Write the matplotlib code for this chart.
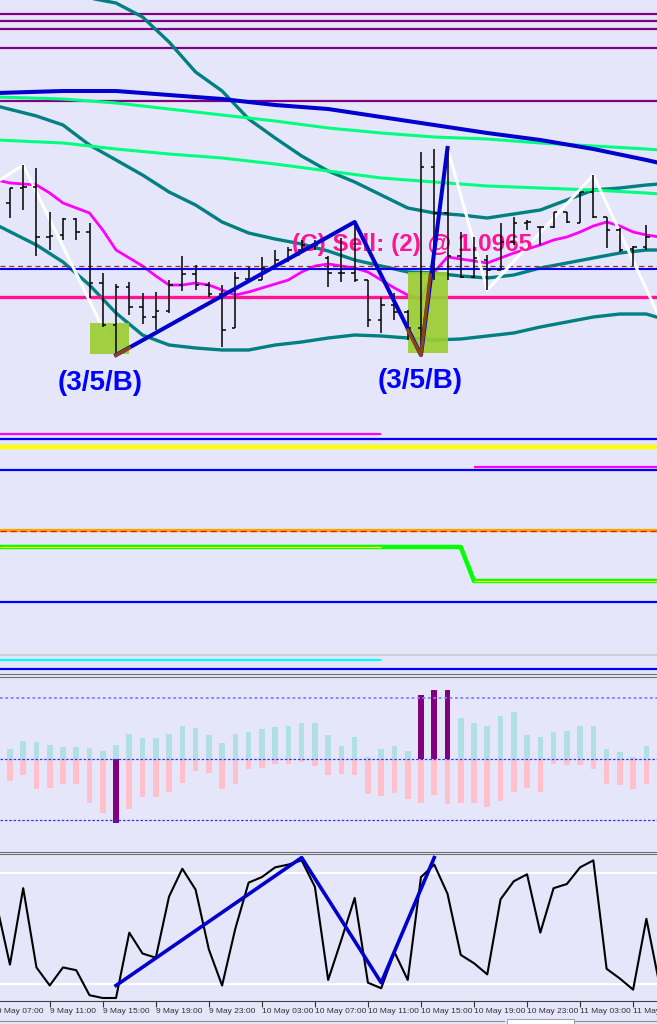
import matplotlib
matplotlib.use("Agg")
import matplotlib.pyplot as plt
from matplotlib.patches import Rectangle
from matplotlib import font_manager

BG = '#E6E6FA'

# ---- H1 price bars, bar index 0 = 9 May 08:00
opens = [1.1027, 1.1042, 1.1043, 1.0993, 1.0995, 1.1011, 1.0998, 1.0947, 1.0905, 1.0943,
         1.0923, 1.0913, 1.0919, 1.0945, 1.0956, 1.0945, 1.0936, 1.0902, 1.0951, 1.0950,
         1.0962, 1.0970, 1.0980, 1.0985, 1.0972, 1.0957, 1.0957, 1.0950, 1.0910, 1.0925,
         1.0918, 1.0902, 1.1063, 1.1017, 1.0974, 1.0953, 1.0970, 1.0960, 1.0988, 1.1007,
         1.1003, 1.1003, 1.1018, 1.1007, 1.1038, 1.1013, 1.1000, 1.0981, 1.0983]
highs = [1.1042, 1.1065, 1.1062, 1.1018, 1.1012, 1.1012, 1.1007, 1.0957, 1.0946, 1.0948,
         1.0937, 1.0938, 1.0950, 1.0974, 1.0965, 1.0948, 1.0945, 1.0958, 1.0963, 1.0973,
         1.0980, 1.0983, 1.0990, 1.0990, 1.0974, 1.0992, 1.1008, 1.0950, 1.0933, 1.0937,
         1.0920, 1.1078, 1.1081, 1.1082, 1.0998, 1.0993, 1.0975, 1.1007, 1.1013, 1.1010,
         1.1003, 1.1018, 1.1018, 1.1038, 1.1055, 1.1013, 1.1002, 1.0984, 1.1005]
lows = [1.1012, 1.1020, 1.0974, 1.0980, 1.0990, 1.0990, 1.0932, 1.0903, 1.0875, 1.0915,
        1.0906, 1.0900, 1.0917, 1.0939, 1.0940, 1.0933, 1.0883, 1.0902, 1.0948, 1.0950,
        1.0961, 1.0968, 1.0977, 1.0980, 1.0943, 1.0948, 1.0948, 1.0903, 1.0897, 1.0910,
        1.0890, 1.0875, 1.0950, 1.0950, 1.0952, 1.0952, 1.0940, 1.0960, 1.0985, 1.1000,
        1.0985, 1.1002, 1.1007, 1.1007, 1.1012, 1.0982, 1.0978, 1.0964, 1.0980]
closes = [1.1042, 1.1043, 1.0993, 1.0994, 1.1011, 1.0998, 1.0947, 1.0905, 1.0943, 1.0923,
          1.0913, 1.0919, 1.0945, 1.0956, 1.0945, 1.0936, 1.0900, 1.0952, 1.0950, 1.0962,
          1.0970, 1.0980, 1.0985, 1.0985, 1.0957, 1.0957, 1.0950, 1.0910, 1.0925, 1.0918,
          1.0902, 1.1063, 1.1017, 1.0974, 1.0953, 1.0972, 1.0960, 1.0988, 1.1007, 1.1008,
          1.1003, 1.1018, 1.1008, 1.1038, 1.1013, 1.1000, 1.0980, 1.0983, 1.0993]

# ---- moving averages / bands (bar index, price)
ma_idx = [-1, 4, 8, 12, 16, 20, 24, 28, 32, 36, 40, 44, 48, 49]
blue_ma = [1.1137, 1.1139, 1.1139, 1.1135, 1.1131, 1.1125, 1.1121, 1.1113, 1.1105, 1.1097,
           1.1090, 1.1081, 1.1070, 1.1067]
green_up = [1.1133, 1.1131, 1.1127, 1.1121, 1.1115, 1.1109, 1.1102, 1.1097, 1.1093, 1.1091,
            1.1087, 1.1084, 1.1081, 1.1080]
green_lo = [1.1090, 1.1087, 1.1081, 1.1076, 1.1072, 1.1066, 1.1059, 1.1052, 1.1048, 1.1044,
            1.1042, 1.1040, 1.1037, 1.1036]

band_up_idx = [5, 6, 8, 10, 12, 14, 16, 18, 20, 22, 24, 26, 28, 30, 32, 34, 36, 38, 40, 42,
               44, 46, 48, 49]
band_up = [1.1238, 1.1232, 1.1227, 1.1213, 1.1188, 1.1158, 1.1139, 1.1111, 1.1092, 1.1074,
           1.1059, 1.1048, 1.1035, 1.1022, 1.1017, 1.1015, 1.1012, 1.1016, 1.1020, 1.1030,
           1.1040, 1.1042, 1.1045, 1.1046]
band_idx = [-1, 2, 4, 6, 8, 10, 12, 14, 16, 18, 20, 22, 24, 26, 28, 30, 32, 34, 36, 38, 40,
            42, 44, 46, 48, 49]
band_mid = [1.1124, 1.1114, 1.1105, 1.1085, 1.1070, 1.1055, 1.1038, 1.1025, 1.1008, 1.0997,
            1.0991, 1.0986, 1.0979, 1.0970, 1.0964, 1.0958, 1.0957, 1.0954, 1.0952, 1.0955,
            1.0962, 1.0967, 1.0972, 1.0977, 1.0980, 1.0980]
band_lo = [1.1005, 1.0985, 1.0968, 1.0945, 1.0917, 1.0895, 1.0885, 1.0882, 1.0880, 1.0880,
           1.0885, 1.0888, 1.0892, 1.0895, 1.0894, 1.0892, 1.0890, 1.0891, 1.0894, 1.0897,
           1.0903, 1.0908, 1.0913, 1.0916, 1.0916, 1.0912]

magenta_ma = [1.1050, 1.1047, 1.1046, 1.1045, 1.1037, 1.1027, 1.1022, 1.1017, 1.1000, 1.0980,
              1.0972, 1.0964, 1.0954, 1.0945, 1.0945, 1.0947, 1.0945, 1.0940, 1.0935, 1.0938,
              1.0942, 1.0946, 1.0950, 1.0958, 1.0964, 1.0966, 1.0964, 1.0962, 1.0958, 1.0950,
              1.0942, 1.0935, 1.0931, 1.0958, 1.0973, 1.0971, 1.0969, 1.0967, 1.0972, 1.0977,
              1.0981, 1.0985, 1.0990, 1.0993, 1.0998, 1.1004, 1.1008, 1.1004, 1.0998, 1.0995,
              1.0993]

# ---- zigzags
zz_idx = [-3, 1, 8, 26, 31, 33, 36, 44, 49]
zz_price = [1.1031, 1.1065, 1.0875, 1.1008, 1.0875, 1.1082, 1.0940, 1.1055, 1.0912]
wave_idx = [8, 26, 31, 33]
wave_price = [1.0875, 1.1008, 1.0875, 1.1082]
brown1_idx = [8, 9]
brown1_price = [1.0875, 1.0882]
brown2_idx = [30, 31, 31.7]
brown2_price = [1.0900, 1.0875, 1.0955]

# ---- horizontal levels
pivots = [1.1216, 1.1209, 1.1201, 1.1182, 1.1129]
sell_level = 1.0964
blue_level = 1.0961
pink_level = 1.0933

# ---- histogram subwindow
hist_pos = [10, 18, 17, 14, 12, 12, 11, 8, 14, 25, 21, 21, 25, 33, 31, 24, 16, 25, 27, 30,
            32, 33, 36, 36, 24, 13, 22, 2, 10, 13, 8, 64, 69, 69, 41, 36, 33, 43, 47, 24,
            22, 27, 28, 33, 33, 10, 7, 2, 13]
hist_neg = [22, 16, 30, 29, 25, 25, 44, 54, 64, 50, 38, 38, 33, 24, 12, 14, 30, 25, 10, 9,
            5, 5, 3, 7, 16, 15, 16, 35, 37, 34, 40, 44, 36, 45, 44, 44, 48, 42, 33, 29,
            33, 5, 6, 6, 10, 25, 26, 30, 25]
signal_idx = [8, 31, 32, 33]
signal_val = [-64, 64, 69, 69]
hist_levels = [61, -61]

# ---- stochastic subwindow (bar -1 .. 49)
stoch = [67, 24, 79, 22, 9, 22, 20, 2, 0, 0, 47, 32, 29, 73, 93, 78, 35, 9, 50, 83, 87, 94,
         96, 99, 80, 13, 42, 72, 11, 7, 33, 13, 87, 96, 75, 31, 25, 17, 71, 84, 89, 47, 79,
         82, 94, 99, 21, 14, 6, 57, 9]
stoch_zz_idx = [8, 22, 28, 32]
stoch_zz = [9, 101, 11, 101]

tick_idx = [-1, 3, 7, 11, 15, 19, 23, 27, 31, 35, 39, 43, 47]
tick_labels = ['9 May 07:00', '9 May 11:00', '9 May 15:00', '9 May 19:00', '9 May 23:00',
               '10 May 03:00', '10 May 07:00', '10 May 11:00', '10 May 15:00',
               '10 May 19:00', '10 May 23:00', '11 May 03:00', '11 May 07:00']

names = {f.name for f in font_manager.fontManager.ttflist}
narrow = 'Liberation Sans Narrow' if 'Liberation Sans Narrow' in names else 'Liberation Sans'

W, H = 657, 1024
fig = plt.figure(figsize=(W / 100, H / 100), dpi=100, facecolor=BG)


def panel(top, bottom):
    return fig.add_axes([0, 1 - bottom / H, 1, (bottom - top) / H], facecolor=BG)


XL = (-0.75, 48.8)
ax = panel(0, 673.5)
axh = panel(676.5, 852)
axs = panel(854, 1000.5)
for a in (ax, axh, axs):
    a.set_xlim(*XL)
    a.set_xticks([])
    a.set_yticks([])
    for s in a.spines.values():
        s.set_visible(False)

# ---------------- main window
ax.set_ylim(1.05565, 1.1230)
for p in pivots:
    ax.axhline(p, color='#800080', lw=1.6, zorder=1)

ax.plot(band_up_idx, band_up, color='#008080', lw=2.4, zorder=2)
ax.plot(band_idx, band_mid, color='#008080', lw=2.4, zorder=2)
ax.plot(band_idx, band_lo, color='#008080', lw=2.4, zorder=2)
ax.plot(ma_idx, green_up, color='#00FF7F', lw=2.2, zorder=2)
ax.plot(ma_idx, green_lo, color='#00FF7F', lw=2.2, zorder=2)
ax.plot(ma_idx, blue_ma, color='#0000D0', lw=2.9, zorder=2.2)
ax.plot(range(-1, 50), magenta_ma, color='#FF00FF', lw=2.0, zorder=2.3)

ax.axhline(sell_level, color='#A52A2A', lw=0.9, dashes=(4, 3), zorder=2.4)
ax.axhline(blue_level, color='#0000FF', lw=1.5, zorder=2.4)
ax.axhline(pink_level, color='#FF1493', lw=2.4, zorder=2.4)

ax.plot(zz_idx, zz_price, color='white', lw=2.2, zorder=3)

for x0, x1, p0, p1 in [(6, 9, 1.0876, 1.0907), (30, 33, 1.0877, 1.0958)]:
    ax.add_patch(Rectangle((x0, p0), x1 - x0, p1 - p0, facecolor='#9ACD32',
                           edgecolor='none', alpha=0.92, zorder=3.5))

ax.text(6.8, 1.0847, '(3/5/B)', color='#0000FF', fontsize=20, fontweight='bold',
        family='Liberation Sans', ha='center', va='center', zorder=4)
ax.text(30.9, 1.0849, '(3/5/B)', color='#0000FF', fontsize=20, fontweight='bold',
        family='Liberation Sans', ha='center', va='center', zorder=4)
ax.text(21.3, 1.0985, '(C) Sell: (2) @ 1.0965', color='#FF1493',
        fontsize=21 if narrow != 'Liberation Sans' else 17.5, fontweight='bold',
        family=narrow, ha='left', va='center', zorder=4)

idx = list(range(len(opens)))
ax.vlines(idx, lows, highs, color='black', lw=1.1, zorder=5)
ax.hlines(opens, [i - 0.26 for i in idx], idx, color='black', lw=1.1, zorder=5)
ax.hlines(closes, idx, [i + 0.26 for i in idx], color='black', lw=1.1, zorder=5)

ax.plot(wave_idx, wave_price, color='#0000CD', lw=2.9, zorder=6)
ax.plot(brown1_idx, brown1_price, color='#8B4513', lw=2.4, zorder=6.5)
ax.plot(brown2_idx, brown2_price, color='#8B4513', lw=2.4, zorder=6.5)

# lower levels of the main window
ax.hlines(1.0796, XL[0], 28, color='#FF00FF', lw=1.6, zorder=2)
ax.axhline(1.0791, color='#0000FF', lw=1.6, zorder=2)
ax.axhline(1.0783, color='#FFFF00', lw=3.2, zorder=2)
ax.hlines(1.0763, 35, XL[1], color='#FF00FF', lw=1.6, zorder=2)
ax.axhline(1.0760, color='#0000FF', lw=1.6, zorder=2)
ax.axhline(1.0700, color='#FFA500', lw=2.4, zorder=2)
ax.axhline(1.0699, color='#CC2200', lw=0.9, dashes=(5, 3), zorder=2.1)
ax.plot([XL[0], 34, 35, XL[1]], [1.0683, 1.0683, 1.0649, 1.0649], color='#00FF00',
        lw=3.2, zorder=2)
ax.hlines(1.0683, XL[0], 28, color='#FFFF00', lw=0.9, zorder=2.1)
ax.hlines(1.0649, 35, XL[1], color='#FFFF00', lw=0.9, zorder=2.1)
ax.axhline(1.0628, color='#0000FF', lw=1.6, zorder=2)
ax.axhline(1.0575, color='#D0D0D8', lw=1.5, zorder=2)
ax.hlines(1.0570, XL[0], 28, color='#00FFFF', lw=1.6, zorder=2)
ax.axhline(1.0561, color='#0000FF', lw=1.6, zorder=2)
ax.spines['bottom'].set_visible(True)
ax.spines['bottom'].set_color('#707070')

# ---------------- histogram window
axh.set_ylim(-93, 82.5)
axh.bar(idx, hist_pos, width=0.42, color='#B0E0E6', zorder=2)
axh.bar(idx, [-v for v in hist_neg], width=0.42, color='#FFC0CB', zorder=2)
axh.bar(signal_idx, signal_val, width=0.42, color='#800080', zorder=3)
axh.axhline(hist_levels[0], color='#7F7FFF', lw=1.3, dashes=(1.5, 1.5), zorder=4)
axh.axhline(0, color='#3030FF', lw=0.9, dashes=(2, 1.5), zorder=4)
axh.axhline(hist_levels[1], color='#3030FF', lw=0.9, dashes=(2, 1.5), zorder=4)
for s in ('top', 'bottom'):
    axh.spines[s].set_visible(True)
    axh.spines[s].set_color('#707070')

# ---------------- stochastic window
axs.set_ylim(-1.8, 103.6)
axs.axhline(90, color='white', lw=1.5, zorder=1)
axs.axhline(10, color='white', lw=1.5, zorder=1)
axs.plot(range(-1, 50), stoch, color='black', lw=1.5, zorder=2)
axs.plot(stoch_zz_idx, stoch_zz, color='#0000CD', lw=2.6, zorder=3)
axs.spines['top'].set_visible(True)
axs.spines['top'].set_color('#707070')
axs.spines['bottom'].set_visible(True)
axs.spines['bottom'].set_color('#404040')
axs.set_xticks(tick_idx[1:])
axs.set_xticklabels(tick_labels[1:], ha='left', fontsize=6, family='Liberation Sans',
                    color='#303030')
axs.tick_params(axis='x', direction='out', length=4, width=0.8, pad=1.5, colors='#303030')
# first label belongs to a bar just left of the visible range
axs.annotate(tick_labels[0], xy=(tick_idx[0], 0), xycoords=('data', 'axes fraction'),
             xytext=(0.5, -5.5), textcoords='offset points', fontsize=6,
             family='Liberation Sans', color='#303030', ha='left', va='top',
             annotation_clip=False)

# terminal tab strip along the bottom edge
fig.add_artist(plt.Line2D([0, 504 / W], [1 - 1020.5 / H] * 2, color='#909090', lw=0.8))
fig.add_artist(plt.Line2D([575 / W, 1], [1 - 1020.5 / H] * 2, color='#909090', lw=0.8))
fig.add_artist(Rectangle((507 / W, 0), 67 / W, 5 / H, facecolor='white',
                         edgecolor='#909090', lw=0.6))

fig.savefig('out.png', dpi=100, facecolor=BG)
